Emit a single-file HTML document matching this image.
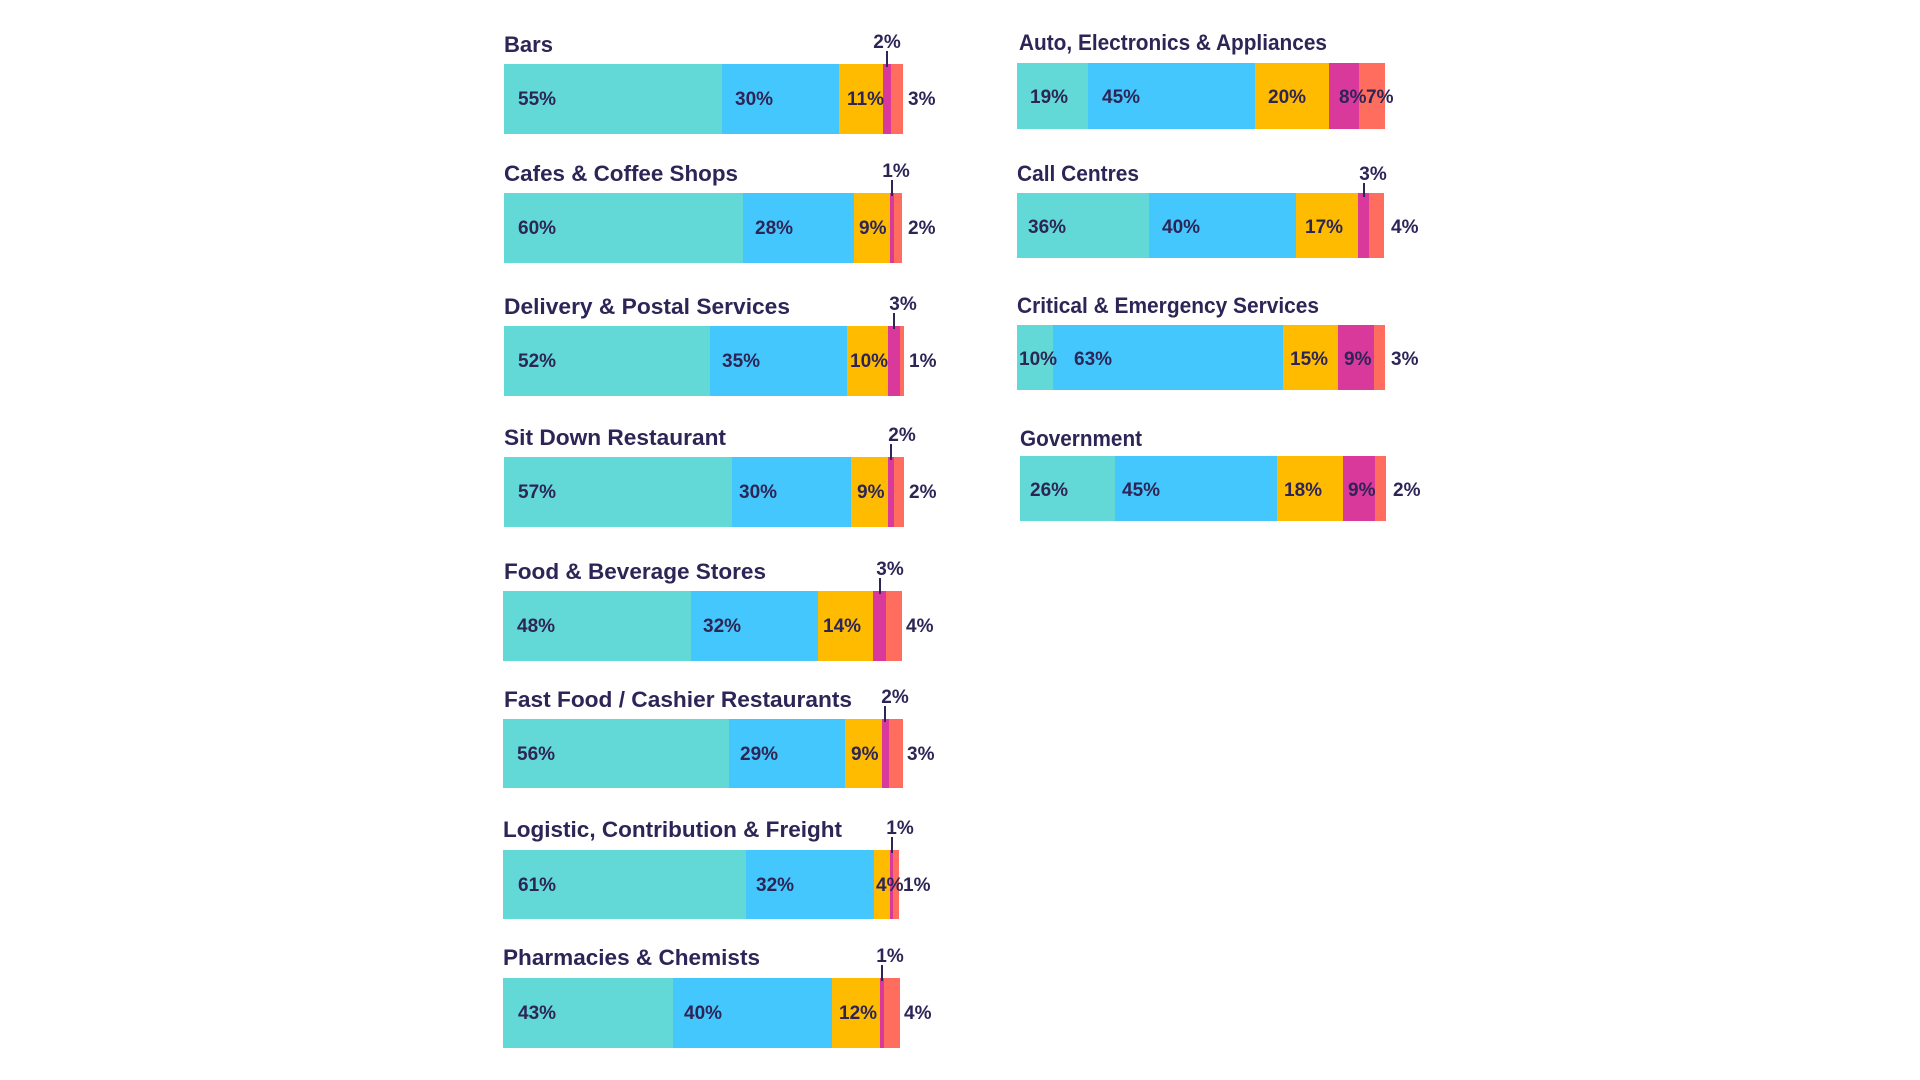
<!DOCTYPE html>
<html><head><meta charset="utf-8"><style>
html,body{margin:0;padding:0;background:#fff;width:1920px;height:1080px;overflow:hidden}
svg{display:block}
text{font-family:"Liberation Sans",Arial,sans-serif;font-weight:bold;fill:#2e2557}
.t{font-size:22px}
.l{font-size:19px}
.tk{stroke:#2e2557;stroke-width:2}
</style></head><body>
<svg width="1920" height="1080" xmlns="http://www.w3.org/2000/svg">
<!-- Bars -->
<text class="t" x="504" y="52" textLength="49" lengthAdjust="spacingAndGlyphs">Bars</text>
<rect x="504" y="64" width="218" height="70" fill="#62d9d6"/><rect x="722" y="64" width="117" height="70" fill="#44c7fd"/><rect x="839" y="64" width="44" height="70" fill="#ffbb00"/><rect x="883" y="64" width="8" height="70" fill="#d9399b"/><rect x="891" y="64" width="12" height="70" fill="#ff6d5f"/>
<text class="l" x="518" y="105">55%</text><text class="l" x="735" y="105">30%</text><text class="l" x="847" y="105">11%</text><text class="l" x="908" y="105">3%</text>
<text class="l" x="887" y="48" text-anchor="middle">2%</text><line class="tk" x1="887" y1="51" x2="887" y2="67"/>
<!-- Cafes -->
<text class="t" x="504" y="181" textLength="234" lengthAdjust="spacingAndGlyphs">Cafes &amp; Coffee Shops</text>
<rect x="504" y="193" width="239" height="70" fill="#62d9d6"/><rect x="743" y="193" width="111" height="70" fill="#44c7fd"/><rect x="854" y="193" width="36" height="70" fill="#ffbb00"/><rect x="890" y="193" width="4" height="70" fill="#d9399b"/><rect x="894" y="193" width="8" height="70" fill="#ff6d5f"/>
<text class="l" x="518" y="234">60%</text><text class="l" x="755" y="234">28%</text><text class="l" x="859" y="234">9%</text><text class="l" x="908" y="234">2%</text>
<text class="l" x="896" y="177" text-anchor="middle">1%</text><line class="tk" x1="892" y1="180" x2="892" y2="196"/>
<g transform="translate(-3,0)">
<!-- Delivery -->
<text class="t" x="507" y="314" textLength="286" lengthAdjust="spacingAndGlyphs">Delivery &amp; Postal Services</text>
<rect x="507" y="326" width="206" height="70" fill="#62d9d6"/><rect x="713" y="326" width="137" height="70" fill="#44c7fd"/><rect x="850" y="326" width="41" height="70" fill="#ffbb00"/><rect x="891" y="326" width="12" height="70" fill="#d9399b"/><rect x="903" y="326" width="4" height="70" fill="#ff6d5f"/>
<text class="l" x="521" y="367">52%</text><text class="l" x="725" y="367">35%</text><text class="l" x="853" y="367">10%</text><text class="l" x="912" y="367">1%</text>
<text class="l" x="906" y="310" text-anchor="middle">3%</text><line class="tk" x1="897" y1="313" x2="897" y2="329"/>
<!-- Sit Down -->
<text class="t" x="507" y="445" textLength="222" lengthAdjust="spacingAndGlyphs">Sit Down Restaurant</text>
<rect x="507" y="457" width="228" height="70" fill="#62d9d6"/><rect x="735" y="457" width="119" height="70" fill="#44c7fd"/><rect x="854" y="457" width="37" height="70" fill="#ffbb00"/><rect x="891" y="457" width="6" height="70" fill="#d9399b"/><rect x="897" y="457" width="10" height="70" fill="#ff6d5f"/>
<text class="l" x="521" y="498">57%</text><text class="l" x="742" y="498">30%</text><text class="l" x="860" y="498">9%</text><text class="l" x="912" y="498">2%</text>
<text class="l" x="905" y="441" text-anchor="middle">2%</text><line class="tk" x1="894" y1="444" x2="894" y2="460"/>
<!-- Food -->
<text class="t" x="507" y="579" textLength="262" lengthAdjust="spacingAndGlyphs">Food &amp; Beverage Stores</text>
<rect x="506" y="591" width="188" height="70" fill="#62d9d6"/><rect x="694" y="591" width="127" height="70" fill="#44c7fd"/><rect x="821" y="591" width="55" height="70" fill="#ffbb00"/><rect x="876" y="591" width="13" height="70" fill="#d9399b"/><rect x="889" y="591" width="16" height="70" fill="#ff6d5f"/>
<text class="l" x="520" y="632">48%</text><text class="l" x="706" y="632">32%</text><text class="l" x="826" y="632">14%</text><text class="l" x="909" y="632">4%</text>
<text class="l" x="893" y="575" text-anchor="middle">3%</text><line class="tk" x1="883" y1="578" x2="883" y2="594"/>
</g>
<g transform="translate(-2,0)">
<!-- Fast food -->
<text class="t" x="506" y="707" textLength="348" lengthAdjust="spacingAndGlyphs">Fast Food / Cashier Restaurants</text>
<rect x="505" y="719" width="226" height="69" fill="#62d9d6"/><rect x="731" y="719" width="116" height="69" fill="#44c7fd"/><rect x="847" y="719" width="37" height="69" fill="#ffbb00"/><rect x="884" y="719" width="7" height="69" fill="#d9399b"/><rect x="891" y="719" width="14" height="69" fill="#ff6d5f"/>
<text class="l" x="519" y="760">56%</text><text class="l" x="742" y="760">29%</text><text class="l" x="853" y="760">9%</text><text class="l" x="909" y="760">3%</text>
<text class="l" x="897" y="703" text-anchor="middle">2%</text><line class="tk" x1="887" y1="706" x2="887" y2="722"/>
</g>
<!-- Logistic -->
<text class="t" x="503" y="837" textLength="339" lengthAdjust="spacingAndGlyphs">Logistic, Contribution &amp; Freight</text>
<rect x="503" y="850" width="243" height="69" fill="#62d9d6"/><rect x="746" y="850" width="128" height="69" fill="#44c7fd"/><rect x="874" y="850" width="16" height="69" fill="#ffbb00"/><rect x="890" y="850" width="3" height="69" fill="#d9399b"/><rect x="893" y="850" width="6" height="69" fill="#ff6d5f"/>
<text class="l" x="518" y="891">61%</text><text class="l" x="756" y="891">32%</text><text class="l" x="876" y="891">4%</text><text class="l" x="903" y="891">1%</text>
<text class="l" x="900" y="834" text-anchor="middle">1%</text><line class="tk" x1="892" y1="837" x2="892" y2="853"/>
<!-- Pharm -->
<text class="t" x="503" y="965" textLength="257" lengthAdjust="spacingAndGlyphs">Pharmacies &amp; Chemists</text>
<rect x="503" y="978" width="170" height="70" fill="#62d9d6"/><rect x="673" y="978" width="159" height="70" fill="#44c7fd"/><rect x="832" y="978" width="48" height="70" fill="#ffbb00"/><rect x="880" y="978" width="4" height="70" fill="#d9399b"/><rect x="884" y="978" width="16" height="70" fill="#ff6d5f"/>
<text class="l" x="518" y="1019">43%</text><text class="l" x="684" y="1019">40%</text><text class="l" x="839" y="1019">12%</text><text class="l" x="904" y="1019">4%</text>
<text class="l" x="890" y="962" text-anchor="middle">1%</text><line class="tk" x1="882" y1="965" x2="882" y2="981"/>

<!-- Right column -->
<text class="t" x="1019" y="50" textLength="308" lengthAdjust="spacingAndGlyphs">Auto, Electronics &amp; Appliances</text>
<rect x="1017" y="63" width="71" height="66" fill="#62d9d6"/><rect x="1088" y="63" width="167" height="66" fill="#44c7fd"/><rect x="1255" y="63" width="74" height="66" fill="#ffbb00"/><rect x="1329" y="63" width="30" height="66" fill="#d9399b"/><rect x="1359" y="63" width="26" height="66" fill="#ff6d5f"/>
<text class="l" x="1030" y="103">19%</text><text class="l" x="1102" y="103">45%</text><text class="l" x="1268" y="103">20%</text><text class="l" x="1339" y="103">8%</text><text class="l" x="1366" y="103">7%</text>

<text class="t" x="1017" y="181" textLength="122" lengthAdjust="spacingAndGlyphs">Call Centres</text>
<rect x="1017" y="193" width="132" height="65" fill="#62d9d6"/><rect x="1149" y="193" width="147" height="65" fill="#44c7fd"/><rect x="1296" y="193" width="62" height="65" fill="#ffbb00"/><rect x="1358" y="193" width="11" height="65" fill="#d9399b"/><rect x="1369" y="193" width="15" height="65" fill="#ff6d5f"/>
<text class="l" x="1028" y="233">36%</text><text class="l" x="1162" y="233">40%</text><text class="l" x="1305" y="233">17%</text><text class="l" x="1391" y="233">4%</text>
<text class="l" x="1373" y="180" text-anchor="middle">3%</text><line class="tk" x1="1364" y1="183" x2="1364" y2="197"/>

<text class="t" x="1017" y="313" textLength="302" lengthAdjust="spacingAndGlyphs">Critical &amp; Emergency Services</text>
<rect x="1017" y="325" width="36" height="65" fill="#62d9d6"/><rect x="1053" y="325" width="230" height="65" fill="#44c7fd"/><rect x="1283" y="325" width="55" height="65" fill="#ffbb00"/><rect x="1338" y="325" width="36" height="65" fill="#d9399b"/><rect x="1374" y="325" width="11" height="65" fill="#ff6d5f"/>
<text class="l" x="1019" y="365">10%</text><text class="l" x="1074" y="365">63%</text><text class="l" x="1290" y="365">15%</text><text class="l" x="1344" y="365">9%</text><text class="l" x="1391" y="365">3%</text>

<text class="t" x="1020" y="446" textLength="122" lengthAdjust="spacingAndGlyphs">Government</text>
<rect x="1020" y="456" width="95" height="65" fill="#62d9d6"/><rect x="1115" y="456" width="162" height="65" fill="#44c7fd"/><rect x="1277" y="456" width="66" height="65" fill="#ffbb00"/><rect x="1343" y="456" width="32" height="65" fill="#d9399b"/><rect x="1375" y="456" width="11" height="65" fill="#ff6d5f"/>
<text class="l" x="1030" y="496">26%</text><text class="l" x="1122" y="496">45%</text><text class="l" x="1284" y="496">18%</text><text class="l" x="1348" y="496">9%</text><text class="l" x="1393" y="496">2%</text>
</svg>
</body></html>
